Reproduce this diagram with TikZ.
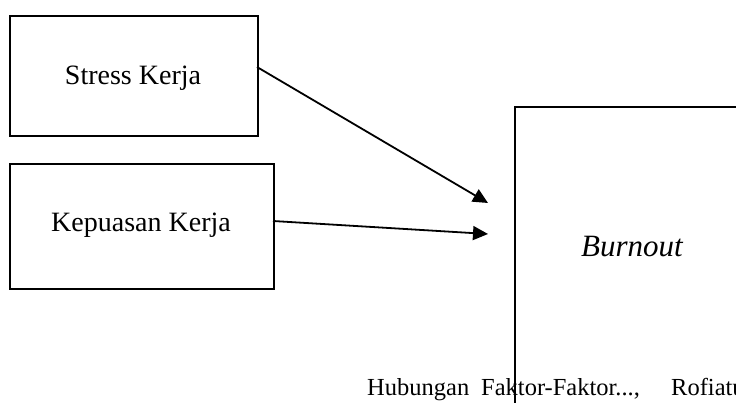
\documentclass[tikz,border=0pt]{standalone}
\usepackage{fontspec}
\setmainfont{Liberation Serif}
\usetikzlibrary{arrows.meta}
\begin{document}
\begin{tikzpicture}[x=1pt,y=-1pt,
  boxline/.style={draw=black,line width=1.8pt},
  conn/.style={line width=1.8pt,-{Triangle[length=15pt,width=14pt]}},
  boxtext/.style={font=\fontsize{28}{30}\selectfont,inner sep=0pt,anchor=base},
  foottext/.style={font=\fontsize{24.5}{28}\selectfont,inner sep=0pt,anchor=base west}]
\useasboundingbox (0,0) rectangle (736,403);
\clip (0,0) rectangle (736,403);
\fill[white] (0,0) rectangle (736,403);
\node[boxline,minimum width=248pt,minimum height=120pt,anchor=north west,inner sep=0pt] (stress) at (9,15) {};
\node[boxtext] (stresstxt) at (133,85) {Stress Kerja};
\node[boxline,minimum width=264pt,minimum height=125pt,anchor=north west,inner sep=0pt] (puas) at (9,163) {};
\node[boxtext] (puastxt) at (141,232) {Kepuasan Kerja};
\draw[boxline] (760,430) -- (515,430) -- (515,107) -- (760,107);
\coordinate (t1) at (488,203);
\coordinate (t2) at (488,234);
\coordinate (s1) at (257,67);
\coordinate (s2) at (273,221);
\draw[conn] (s1) -- (t1);
\draw[conn] (s2) -- (t2);
\node[font=\fontsize{31}{34}\selectfont\itshape,inner sep=0pt,anchor=base] (burn) at (632,257) {Burnout};
\node[foottext] (foot1) at (367,395) {Hubungan};
\node[foottext] (foot2) at (481,395) {Faktor-Faktor...,};
\node[foottext] (foot3) at (671,395) {Rofiatun};
\end{tikzpicture}
\end{document}
